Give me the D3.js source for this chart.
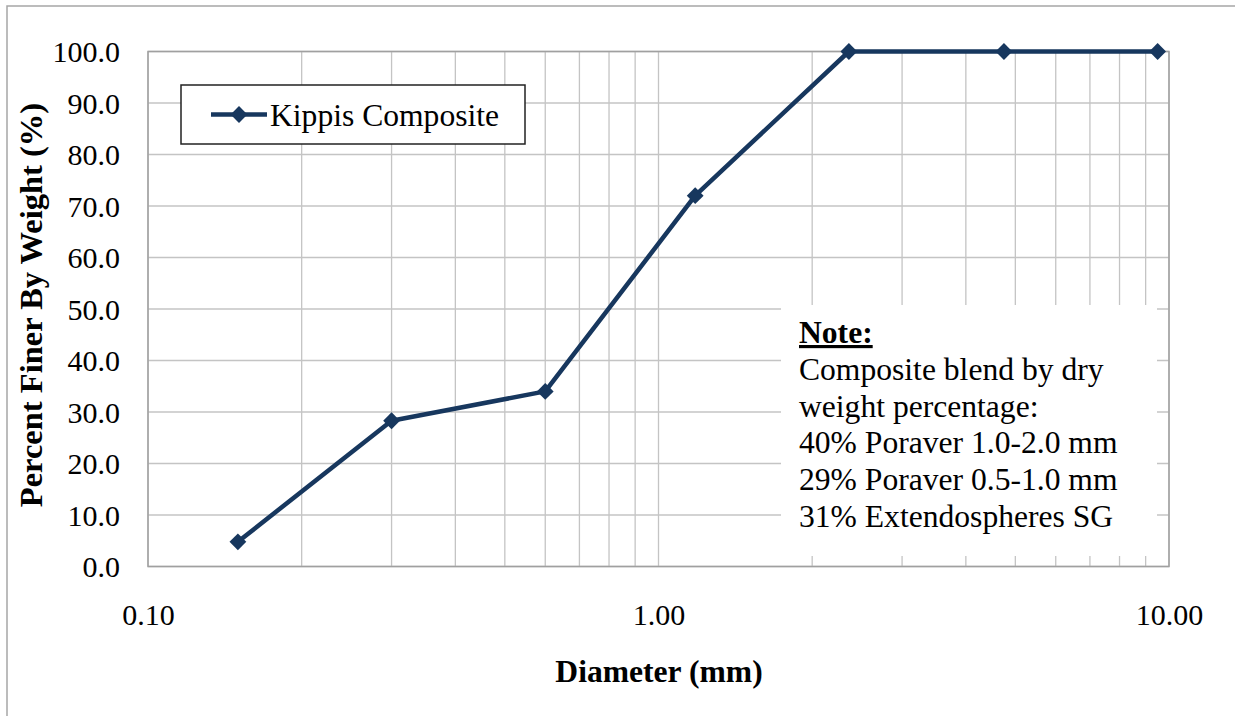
<!DOCTYPE html>
<html>
<head>
<meta charset="utf-8">
<script src="https://cdn.jsdelivr.net/npm/d3@7"></script>
<style>
  html, body { margin: 0; padding: 0; background: #fff; }
  svg { display: block; font-family: "Liberation Serif", "Times New Roman", serif; }
</style>
</head>
<body>
<svg id="chart" width="1235" height="716"></svg>
<script>
// Sieve analysis: particle diameter (mm) vs. cumulative percent passing
const diameters = [0.15, 0.3, 0.6, 1.18, 2.36, 4.75, 9.5];
const percentFiner = [4.8, 28.3, 34.0, 72.0, 100.0, 100.0, 100.0];
const seriesName = "Kippis Composite";
const xTickValues = [0.1, 1, 10];
const yTickValues = [0, 10, 20, 30, 40, 50, 60, 70, 80, 90, 100];
const noteTitle = "Note:";
const noteLines = [
  "Composite blend by dry",
  "weight percentage:",
  "40% Poraver 1.0-2.0 mm",
  "29% Poraver 0.5-1.0 mm",
  "31% Extendospheres SG"
];

const svg = d3.select("#chart");
const plot = { left: 148, top: 51.5, right: 1169, bottom: 566.5 };
const navy = "#17375e";
const gridColor = "#c4c4c4";

// Outer chart frame
svg.append("rect")
  .attr("x", 7).attr("y", 6).attr("width", 1260).attr("height", 760)
  .attr("fill", "#fff").attr("stroke", "#a6a6a6").attr("stroke-width", 1.5);

const x = d3.scaleLog().domain([0.1, 10]).range([plot.left, plot.right]);
const y = d3.scaleLinear().domain([0, 100]).range([plot.bottom, plot.top]);

// Log-scale vertical gridlines (minor + major)
const xGrid = x.ticks();
svg.append("g").selectAll("line").data(xGrid).join("line")
  .attr("x1", d => x(d)).attr("x2", d => x(d))
  .attr("y1", plot.top).attr("y2", plot.bottom)
  .attr("stroke", gridColor).attr("stroke-width", 1.3);

// Horizontal gridlines
svg.append("g").selectAll("line").data(yTickValues).join("line")
  .attr("x1", plot.left).attr("x2", plot.right)
  .attr("y1", d => y(d)).attr("y2", d => y(d))
  .attr("stroke", gridColor).attr("stroke-width", 1.3);

// Plot area border
svg.append("rect")
  .attr("x", plot.left).attr("y", plot.top)
  .attr("width", plot.right - plot.left).attr("height", plot.bottom - plot.top)
  .attr("fill", "none").attr("stroke", "#a0a0a0").attr("stroke-width", 1.5);

// Note box (white panel over the grid)
const noteBox = { x: 781, y: 305, w: 376, h: 251 };
svg.append("rect")
  .attr("x", noteBox.x).attr("y", noteBox.y)
  .attr("width", noteBox.w).attr("height", noteBox.h)
  .attr("fill", "#fff");

const noteFont = 31.6;
const lineGap = 36.8;
const noteText = svg.append("g").attr("font-size", noteFont).attr("fill", "#000");
noteText.append("text")
  .attr("x", 799).attr("y", 343)
  .attr("font-weight", "bold").attr("text-decoration", "underline")
  .text(noteTitle);
noteText.selectAll("text.line").data(noteLines).join("text")
  .attr("class", "line")
  .attr("x", 799).attr("y", (d, i) => 343 + (i + 1) * lineGap)
  .text(d => d);

// Y axis labels
const yAxis = d3.axisLeft(y).tickValues(yTickValues).tickFormat(d3.format(".1f")).tickSize(0).tickPadding(28);
const gy = svg.append("g").attr("transform", `translate(${plot.left},0)`).call(yAxis);
gy.select(".domain").remove();
gy.selectAll("text").attr("font-size", 30).attr("font-family", "Liberation Serif").attr("fill", "#000").attr("dy", "0.34em");

// X axis labels
const xAxis = d3.axisBottom(x).tickValues(xTickValues).tickFormat(d3.format(".2f")).tickSize(0).tickPadding(0);
const gx = svg.append("g").attr("transform", `translate(0,${plot.bottom})`).call(xAxis);
gx.select(".domain").remove();
gx.selectAll("text").attr("font-size", 30).attr("font-family", "Liberation Serif").attr("fill", "#000")
  .attr("dy", 0).attr("y", 58.5);

// Axis titles
svg.append("text")
  .attr("x", 659).attr("y", 682)
  .attr("text-anchor", "middle").attr("font-size", 31.6).attr("font-weight", "bold")
  .text("Diameter (mm)");
svg.append("text")
  .attr("transform", `translate(42,${(plot.top + plot.bottom) / 2 - 4}) rotate(-90)`)
  .attr("text-anchor", "middle").attr("font-size", 32.5).attr("font-weight", "bold")
  .text("Percent Finer By Weight (%)");

// Data series
const pts = diameters.map((d, i) => [d, percentFiner[i]]);
const line = d3.line().x(d => x(d[0])).y(d => y(d[1]));
svg.append("path").datum(pts)
  .attr("d", line).attr("fill", "none")
  .attr("stroke", navy).attr("stroke-width", 4.5).attr("stroke-linejoin", "round");

const diamond = d3.symbol().type(d3.symbolDiamond2).size(180);
svg.append("g").selectAll("path").data(pts).join("path")
  .attr("d", diamond)
  .attr("transform", d => `translate(${x(d[0])},${y(d[1])})`)
  .attr("fill", navy);

// Legend
const lg = svg.append("g");
lg.append("rect").attr("x", 181).attr("y", 85).attr("width", 344).attr("height", 59)
  .attr("fill", "#fff").attr("stroke", "#222").attr("stroke-width", 1.5);
lg.append("line").attr("x1", 211).attr("x2", 267).attr("y1", 114.5).attr("y2", 114.5)
  .attr("stroke", navy).attr("stroke-width", 4.5);
lg.append("path").attr("d", diamond).attr("transform", "translate(239,114.5)").attr("fill", navy);
lg.append("text").attr("x", 270).attr("y", 126).attr("font-size", 31.6).text(seriesName);
</script>
</body>
</html>
